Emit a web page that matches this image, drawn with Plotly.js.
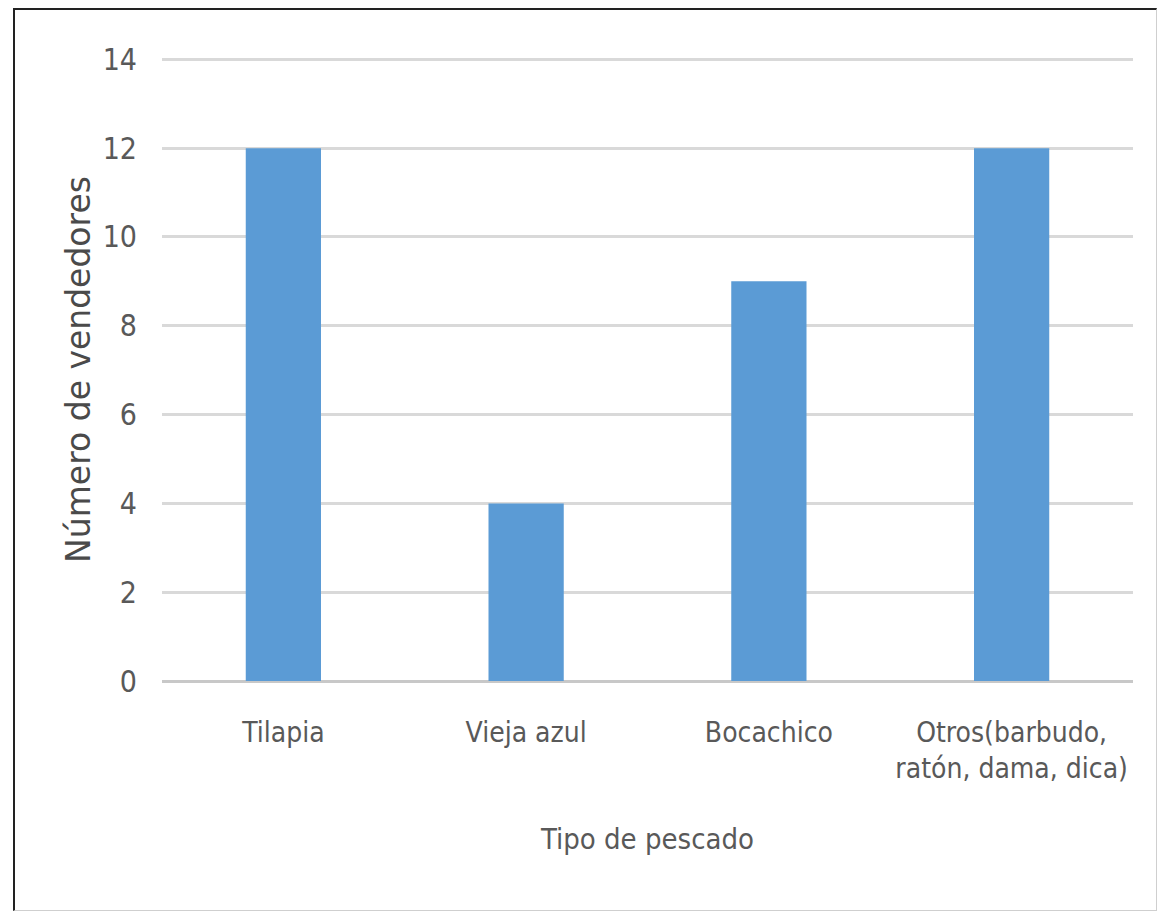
<!DOCTYPE html>
<html>
<head>
<meta charset="utf-8">
<script src="https://cdn.plot.ly/plotly-3.0.1.min.js"></script>
<style>
  html, body { margin: 0; padding: 0; background: #fff; }
  #frame {
    position: absolute; left: 0; top: 0; width: 1158px; height: 911px;
  }
  #border {
    position: absolute; left: 13px; top: 8px; width: 1141px; height: 900px;
    border-left: 2px solid #222; border-top: 2px solid #222;
    border-right: 1px solid #cfcfcf; border-bottom: 1px solid #cfcfcf;
    pointer-events: none;
  }
  #chart { position: absolute; left: 0; top: 0; width: 1158px; height: 911px; }
</style>
</head>
<body>
<div id="frame">
  <div id="chart"></div>
  <div id="border"></div>
</div>
<script>
// Fish types sold and number of vendors per type
const categories = [
  "Tilapia",
  "Vieja azul",
  "Bocachico",
  "Otros(barbudo,<br>ratón, dama, dica)"
];
const vendors = [12, 4, 9, 12];
const yTicks = [0, 2, 4, 6, 8, 10, 12, 14];

const textColor = "#595959";
const narrow = "'DejaVu Sans Condensed', 'Liberation Sans Narrow', sans-serif";

const trace = {
  type: "bar",
  x: categories,
  y: vendors,
  marker: { color: "#5b9bd5" },
  hoverinfo: "x+y"
};

const layout = {
  width: 1158,
  height: 911,
  margin: { l: 162, r: 25, t: 58, b: 230 },
  paper_bgcolor: "rgba(0,0,0,0)",
  plot_bgcolor: "#ffffff",
  bargap: 0.69,
  showlegend: false,
  xaxis: {
    type: "category",
    showgrid: false,
    showline: false,
    zeroline: false,
    ticks: "",
    ticklabelstandoff: 32,
    tickfont: { family: narrow, size: 28, color: textColor },
    title: {
      text: "Tipo de pescado",
      font: { family: narrow, size: 29, color: textColor },
      standoff: 44
    },
    automargin: false
  },
  yaxis: {
    range: [0, 14.03],
    tickvals: yTicks,
    ticktext: yTicks.map(String),
    showgrid: true,
    gridcolor: "#d9d9d9",
    gridwidth: 3,
    zeroline: true,
    zerolinecolor: "#c8c8c8",
    zerolinewidth: 3,
    showline: false,
    ticks: "",
    ticklabelstandoff: 24,
    tickfont: { family: narrow, size: 30, color: textColor },
    title: {
      text: "Número de vendedores",
      font: { family: "'DejaVu Sans', sans-serif", size: 33, color: "#4a4a4a" },
      standoff: 2
    },
    automargin: false
  }
};

Plotly.newPlot("chart", [trace], layout, { displayModeBar: false, staticPlot: true });
</script>
</body>
</html>
